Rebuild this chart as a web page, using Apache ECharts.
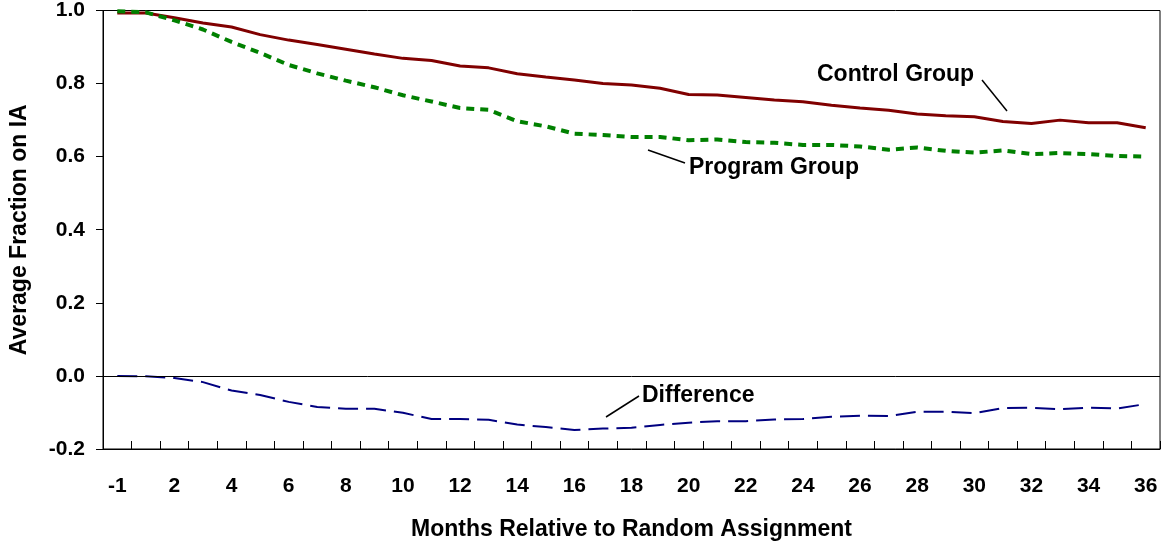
<!DOCTYPE html>
<html>
<head>
<meta charset="utf-8">
<script src="https://cdn.jsdelivr.net/npm/echarts@6/dist/echarts.min.js"></script>
<style>
  html, body { margin: 0; padding: 0; background: #fff; }
  #chart { width: 1162px; height: 546px; }
</style>
</head>
<body>
<div id="chart"></div>
<script>
// months relative to random assignment (no month 0)
const months = ['-1', '1', '2', '3', '4', '5', '6', '7', '8', '9', '10', '11', '12', '13', '14', '15', '16', '17', '18',
  '19', '20', '21', '22', '23', '24', '25', '26', '27', '28', '29', '30', '31', '32', '33', '34', '35', '36'];

const controlGroup = [0.993, 0.993, 0.980, 0.966, 0.955, 0.934, 0.919, 0.907, 0.894, 0.881, 0.869, 0.863, 0.848,
  0.843, 0.827, 0.818, 0.810, 0.800, 0.796, 0.787, 0.770, 0.769, 0.762, 0.755, 0.750, 0.741, 0.733, 0.727,
  0.717, 0.712, 0.709, 0.696, 0.691, 0.700, 0.693, 0.693, 0.679];

const programGroup = [0.998, 0.995, 0.973, 0.948, 0.914, 0.884, 0.851, 0.828, 0.808, 0.790, 0.768, 0.751, 0.733,
  0.728, 0.697, 0.683, 0.663, 0.659, 0.654, 0.654, 0.645, 0.647, 0.640, 0.638, 0.632, 0.632, 0.628, 0.619,
  0.625, 0.616, 0.611, 0.617, 0.607, 0.610, 0.607, 0.602, 0.600];

const difference = [0.0, -0.001, -0.006, -0.017, -0.040, -0.052, -0.071, -0.085, -0.090, -0.090, -0.101, -0.118,
  -0.118, -0.120, -0.133, -0.140, -0.148, -0.144, -0.142, -0.134, -0.128, -0.124, -0.124, -0.119, -0.118,
  -0.112, -0.109, -0.110, -0.098, -0.098, -0.102, -0.088, -0.087, -0.091, -0.087, -0.089, -0.077];

const FONT = '"Liberation Sans", Arial, sans-serif';

const chart = echarts.init(document.getElementById('chart'), null, { renderer: 'canvas' });

function annotation(text, tx, ty, x1, y1, x2, y2) {
  return [
    {
      type: 'text', x: tx, y: ty,
      style: { text: text, font: 'bold 23px ' + FONT, fill: '#000', verticalAlign: 'middle' }
    },
    {
      type: 'line',
      shape: { x1: x1, y1: y1, x2: x2, y2: y2 },
      style: { stroke: '#000', lineWidth: 1.5 }
    }
  ];
}

const option = {
  animation: false,
  backgroundColor: '#fff',
  textStyle: { fontFamily: FONT },
  grid: {
    left: 101, right: 2, top: 9, bottom: 97,
    show: true, borderColor: '#000', borderWidth: 1
  },
  xAxis: {
    type: 'category',
    data: months,
    boundaryGap: true,
    name: 'Months Relative to Random Assignment',
    nameLocation: 'middle',
    nameGap: 69,
    nameTextStyle: { fontSize: 23, fontWeight: 'bold', color: '#000', fontFamily: FONT },
    axisLine: { onZero: false, lineStyle: { color: '#000', width: 1 } },
    axisTick: { show: true, inside: true, length: 8, interval: 0, lineStyle: { color: '#000' } },
    axisLabel: { interval: 1, margin: 27, fontSize: 21, fontWeight: 'bold', color: '#000', fontFamily: FONT },
    splitLine: { show: false }
  },
  yAxis: {
    type: 'value',
    min: -0.2,
    max: 1.0,
    interval: 0.2,
    name: 'Average Fraction on IA',
    nameLocation: 'middle',
    nameGap: 72,
    nameTextStyle: { fontSize: 23, fontWeight: 'bold', color: '#000', fontFamily: FONT },
    axisLine: { show: true, lineStyle: { color: '#000', width: 1 } },
    axisTick: { show: true, length: 7, lineStyle: { color: '#000' } },
    axisLabel: {
      margin: 18, fontSize: 21, fontWeight: 'bold', color: '#000', fontFamily: FONT,
      formatter: v => v.toFixed(1)
    },
    splitLine: { show: false }
  },
  series: [
    {
      name: 'Control Group',
      type: 'line',
      data: controlGroup,
      symbol: 'none',
      lineStyle: { color: '#800000', width: 3 },
      z: 3
    },
    {
      name: 'Program Group',
      type: 'line',
      data: programGroup,
      symbol: 'none',
      lineStyle: { color: '#008000', width: 4, type: [8, 6] },
      z: 4
    },
    {
      name: 'Difference',
      type: 'line',
      data: difference,
      symbol: 'none',
      lineStyle: { color: '#000080', width: 2, type: [20, 8] },
      z: 4,
      markLine: {
        silent: true,
        symbol: 'none',
        label: { show: false },
        lineStyle: { color: '#000', width: 1, type: 'solid' },
        data: [{ yAxis: 0 }]
      }
    }
  ],
  graphic: [
    ...annotation('Control Group', 817, 75, 982, 80, 1007, 111),
    ...annotation('Program Group', 689, 168, 648, 150, 685, 163),
    ...annotation('Difference', 642, 396, 606, 417, 639, 396)
  ]
};

chart.setOption(option);
</script>
</body>
</html>
